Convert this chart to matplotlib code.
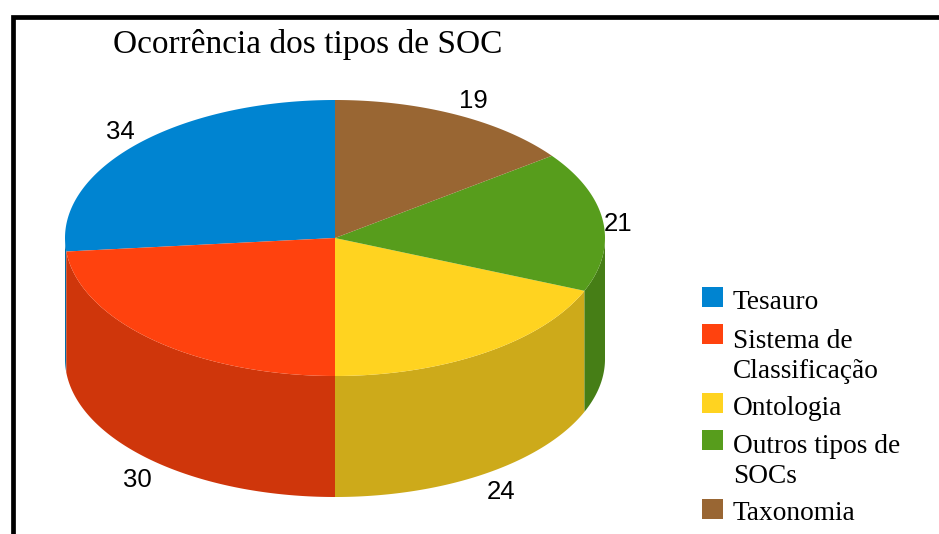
import numpy as np
import matplotlib
matplotlib.use('Agg')
import matplotlib.pyplot as plt
from matplotlib.patches import Polygon

# Data
labels = ['Tesauro', 'Sistema de\nClassificação', 'Ontologia', 'Outros tipos de\nSOCs', 'Taxonomia']
values = [34, 30, 24, 21, 19]
top_colors = ['#0084d1', '#ff420e', '#ffd320', '#579d1c', '#996633']
side_colors = ['#006ea8', '#cf360b', '#cdaa1a', '#467e16', '#7b5229']

# Pie geometry in pixels
cx, cy = 335, 238
rx, ry = 270, 138
depth = 121

fig = plt.figure(figsize=(9.39, 5.34), dpi=100)
ax = fig.add_axes([0, 0, 1, 1])
ax.set_xlim(0, 939)
ax.set_ylim(534, 0)
ax.axis('off')


def rim(a1, a2):
    t = np.radians(np.linspace(a1, a2, 200))
    return cx + rx * np.cos(t), cy - ry * np.sin(t)


# Slice angles, counter clockwise from 12 o'clock
angles = 90 + np.concatenate([[0], np.cumsum(values)]) * 360.0 / sum(values)

# Side wall first (only the front half is visible), then the top
for i in range(len(values)):
    a1, a2 = angles[i], angles[i + 1]
    for lo, hi in [(a1, a2), (a1 - 360, a2 - 360)]:
        lo2, hi2 = max(lo, 180), min(hi, 360)
        if hi2 > lo2:
            x, y = rim(lo2, hi2)
            pts = np.r_[np.c_[x, y], np.c_[x[::-1], y[::-1] + depth]]
            ax.add_patch(Polygon(pts, fc=side_colors[i], ec='none', zorder=2))

for i in range(len(values)):
    x, y = rim(angles[i], angles[i + 1])
    pts = np.r_[[[cx, cy]], np.c_[x, y]]
    ax.add_patch(Polygon(pts, fc=top_colors[i], ec='none', zorder=3))

# Value labels
label_pos = [(120, 132), (137, 480), (501, 492), (618, 224), (473, 101)]
for v, (x, y) in zip(values, label_pos):
    ax.text(x, y, str(v), family='Liberation Sans', fontsize=18.5, ha='center', va='center', color='black', zorder=5)

# Title
ax.text(113, 53, 'Ocorrência dos tipos de SOC', family='Liberation Serif', fontsize=24,
        ha='left', va='baseline', color='black')

# Legend, baseline is the last line of each label
box_top = [287, 324, 393, 430, 499]
text_y = [309, 378, 415, 483, 520]
for i in range(len(labels)):
    ax.add_patch(plt.Rectangle((702, box_top[i]), 21, 20, fc=top_colors[i], ec='none'))
    ax.text(733, text_y[i], labels[i], family='Liberation Serif', fontsize=19.7, ha='left', va='baseline',
            linespacing=1.25, color='black')

# Frame
ax.plot([12.5, 12.5, 939], [534, 16.5, 16.5], color='black', lw=3.4, solid_joinstyle='miter', zorder=6)

fig.savefig('out.png', dpi=100)
